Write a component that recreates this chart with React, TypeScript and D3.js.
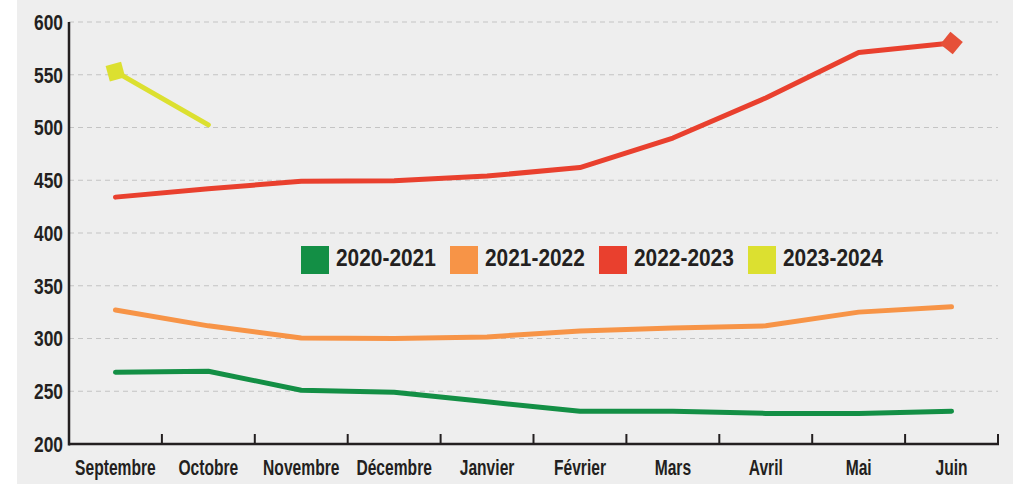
import * as d3 from "d3";

const MONTHS = [
  "Septembre",
  "Octobre",
  "Novembre",
  "Décembre",
  "Janvier",
  "Février",
  "Mars",
  "Avril",
  "Mai",
  "Juin",
];

const SERIES_NAMES = ["2020-2021", "2021-2022", "2022-2023", "2023-2024"];
const SERIES_COLORS = ["#138f45", "#f79447", "#e9402e", "#dce030"];

const V_2020_2021 = [268, 269, 251, 249, 240, 231, 231, 229, 229, 231];
const V_2021_2022 = [327, 312, 300.5, 300, 301.5, 307, 310, 312, 325, 330];
const V_2022_2023 = [434, 442, 449, 449.5, 454, 462, 490, 528, 571, 580];
const V_2023_2024 = [553, 502.5];

const Y_TICKS = [200, 250, 300, 350, 400, 450, 500, 550, 600];

const ALL_VALUES = [V_2020_2021, V_2021_2022, V_2022_2023, V_2023_2024];

const FONT = "'Liberation Sans', Arial, sans-serif";
const INK = "#231f20";

const W = 1013;
const H = 484;
const left = 69;
const right = 998;
const top = 22;
const bottom = 444;

// condensed bold text, squeezed horizontally around its anchor point
const Narrow = ({
  x,
  y,
  sx,
  size,
  anchor,
  children,
}: {
  x: number;
  y: number;
  sx: number;
  size: number;
  anchor: "start" | "middle" | "end";
  children: string;
}) => (
  <g transform={`translate(${x},${y}) scale(${sx},1)`}>
    <text
      textAnchor={anchor}
      dominantBaseline="middle"
      fontSize={size}
      fontWeight="bold"
      fill={INK}
    >
      {children}
    </text>
  </g>
);

export default function App() {
  const x = d3.scaleBand<string>().domain(MONTHS).range([left, right]);
  const y = d3.scaleLinear().domain([200, 600]).range([bottom, top]);
  const cx = (i: number) => (x(MONTHS[i]) ?? 0) + x.bandwidth() / 2;

  const line = d3
    .line<number>()
    .x((_, i) => cx(i))
    .y((d) => y(d))
    .curve(d3.curveLinear);

  // diamond marker oriented along the line end
  const marker = (vals: number[], idx: number, other: number, color: string) => {
    const px = cx(idx);
    const py = y(vals[idx]);
    const ang =
      (Math.atan2(y(vals[other]) - py, cx(other) - px) * 180) / Math.PI;
    return (
      <rect
        x={-8}
        y={-8}
        width={16}
        height={16}
        fill={color}
        transform={`translate(${px},${py}) rotate(${ang + 45})`}
      />
    );
  };

  return (
    <svg
      width={W}
      height={H}
      style={{ position: "absolute", left: 0, top: 0 }}
      fontFamily={FONT}
    >
      <rect x={0} y={0} width={W} height={H} fill="#ffffff" />
      <rect x={17} y={0} width={W - 17} height={H} fill="#eeeeee" />

      {/* grid */}
      {Y_TICKS.filter((t) => t > 200).map((t) => (
        <line
          key={t}
          x1={left}
          x2={right}
          y1={y(t)}
          y2={y(t)}
          stroke="#c4c4c4"
          strokeWidth={1.2}
          strokeDasharray="5,4"
        />
      ))}

      {/* y labels */}
      {Y_TICKS.map((t) => (
        <Narrow key={t} x={63} y={y(t) + 2} sx={0.79} size={22} anchor="end">
          {String(t)}
        </Narrow>
      ))}

      {/* axes */}
      <line x1={left} x2={left} y1={top} y2={bottom + 1.5} stroke={INK} strokeWidth={2.5} />
      <line x1={left} x2={right + 1} y1={bottom} y2={bottom} stroke={INK} strokeWidth={2.5} />
      {MONTHS.map((m) => (
        <line
          key={m}
          x1={(x(m) ?? 0) + x.bandwidth()}
          x2={(x(m) ?? 0) + x.bandwidth()}
          y1={bottom}
          y2={bottom - 10}
          stroke={INK}
          strokeWidth={2}
        />
      ))}
      {MONTHS.map((m, i) => (
        <Narrow key={m} x={cx(i)} y={469} sx={0.71} size={22} anchor="middle">
          {m}
        </Narrow>
      ))}

      {/* lines */}
      {ALL_VALUES.map((vals, s) => (
        <path
          key={s}
          d={line(vals) ?? ""}
          fill="none"
          stroke={SERIES_COLORS[s]}
          strokeWidth={5}
          strokeLinecap="round"
          strokeLinejoin="round"
        />
      ))}
      {marker(V_2022_2023, V_2022_2023.length - 1, V_2022_2023.length - 2, "#e65038")}
      {marker(V_2023_2024, 0, 1, SERIES_COLORS[3])}

      {/* legend */}
      {SERIES_NAMES.map((name, i) => (
        <g key={name} transform={`translate(${301 + i * 149},246)`}>
          <rect x={0} y={0} width={28} height={28} fill={SERIES_COLORS[i]} />
          <Narrow x={35} y={14} sx={0.87} size={24} anchor="start">
            {name}
          </Narrow>
        </g>
      ))}
    </svg>
  );
}
